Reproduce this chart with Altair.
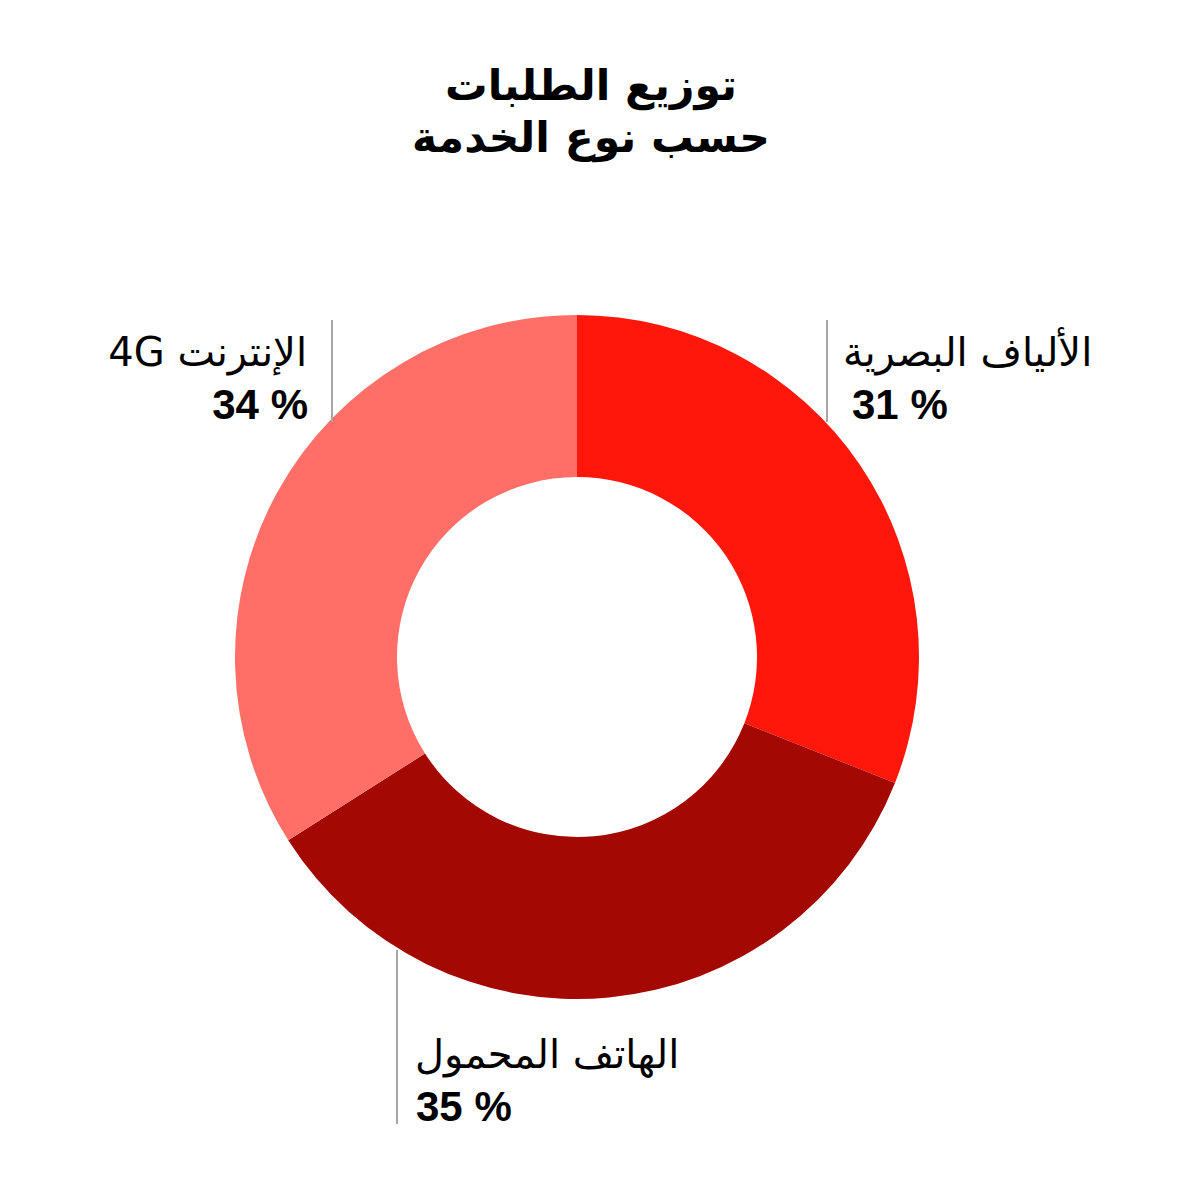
import altair as alt
import pandas as pd

# ---- data ----
categories = ["الألياف البصرية", "الهاتف المحمول", "4G الإنترنت"]
values = [31, 35, 34]
colors = ["#FF170C", "#A30803", "#FF6E67"]
title_lines = ["توزيع الطلبات", "حسب نوع الخدمة"]

# ---- layout (chart pixel coordinates) ----
CX, CY = 569, 649
R_OUT, R_IN = 342, 180
label_layout = {
    # name x, number x, arabic baseline, number baseline, align, rule x, rule y1, rule y2
    "الألياف البصرية": (835, 844, 358, 411, "left", 819, 312, 414),
    "الهاتف المحمول": (407, 408, 1060, 1113, "left", 389, 942, 1116),
    "4G الإنترنت": (299, 300, 358, 411, "right", 324, 312, 414),
}
LABEL_FONT = "DejaVu Sans"
TITLE_FONT = "DejaVu Sans"

df = pd.DataFrame({"category": categories, "value": values,
                   "order": list(range(len(categories)))})

arc = alt.Chart(df).mark_arc(innerRadius=R_IN, outerRadius=R_OUT, strokeWidth=0).encode(
    theta=alt.Theta("value:Q", stack=True),
    color=alt.Color("category:N", scale=alt.Scale(domain=categories, range=colors), legend=None),
    order=alt.Order("order:Q"),
    x=alt.value(CX),
    y=alt.value(CY),
)

rows = []
for c, v in zip(categories, values):
    lx, nx, ly1, ly2, al, rx, ry1, ry2 = label_layout[c]
    rows.append(dict(category=c, pct=f"{v} %", lx=lx, nx=nx, ly1=ly1, ly2=ly2, al=al,
                     rx=rx, ry1=ry1, ry2=ry2))
lab = pd.DataFrame(rows)

rules = alt.Chart(lab).mark_rule(color="#A6A6A6", strokeWidth=2).encode(
    x=alt.X("rx:Q", scale=None),
    y=alt.Y("ry1:Q", scale=None),
    y2="ry2:Q",
)

layers = [arc, rules]
for al in ["left", "right"]:
    sub = lab[lab["al"] == al]
    names = alt.Chart(sub).mark_text(
        align=al, baseline="alphabetic", fontSize=40,
        font=LABEL_FONT, color="#000000",
    ).encode(x=alt.X("lx:Q", scale=None), y=alt.Y("ly1:Q", scale=None), text="category:N")
    pcts = alt.Chart(sub).mark_text(
        align=al, baseline="alphabetic", fontSize=42, fontWeight="bold",
        font="Liberation Sans, Arial, sans-serif", color="#000000",
    ).encode(x=alt.X("nx:Q", scale=None), y=alt.Y("ly2:Q", scale=None), text="pct:N")
    layers += [names, pcts]

tdf = pd.DataFrame({"t": title_lines, "ty": [92, 144], "tx": [583, 583]})
title = alt.Chart(tdf).mark_text(
    align="center", baseline="alphabetic", fontSize=42.5, fontWeight="bold",
    font=TITLE_FONT, color="#000000",
).encode(x=alt.X("tx:Q", scale=None), y=alt.Y("ty:Q", scale=None), text="t:N")
layers.append(title)

chart = alt.layer(*layers).properties(
    width=1166, height=1166, padding=0, autosize="none"
).configure_view(stroke=None)

chart.save("out.html", embed_options={"renderer": "svg", "actions": False})
